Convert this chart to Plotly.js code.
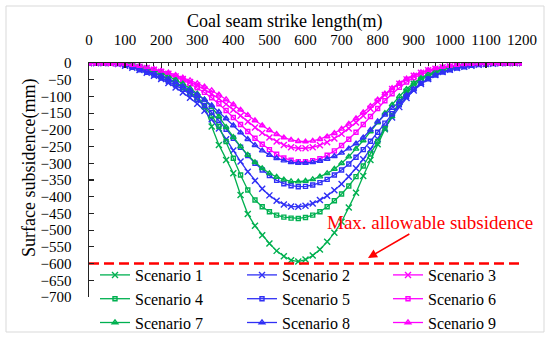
<!DOCTYPE html>
<html><head><meta charset="utf-8">
<script src="https://cdn.plot.ly/plotly-3.0.1.min.js"></script>
<style>html,body{margin:0;padding:0;background:#fff;}#chart{width:550px;height:338px;}</style>
</head><body><div id="chart"></div>
<script>
// strike length (m)
const strikeLength = [0,20,40,60,80,100,120,140,160,180,200,220,240,260,280,300,320,340,360,380,400,420,440,460,480,500,520,540,560,580,600,620,640,660,680,700,720,740,760,780,800,820,840,860,880,900,920,940,960,980,1000,1020,1040,1060,1080,1100,1120,1140,1160,1180,1200];
// surface subsidence (mm)
const scenario1 = [0,0,0,0,-1,-3,-8,-14,-21,-29, -38,-48,-60,-73,-87,-102,-128,-190,-245,-290, -330,-395,-452,-487,-515,-540,-562,-578,-590,-594, -588,-576,-558,-535,-508,-475,-432,-388,-338,-290, -243,-198,-155,-116,-86,-62,-46,-35,-26,-19, -14,-10,-7,-5,-3,-2,-1,0,0,0, 0];
const scenario2 = [0,0,0,0,-3,-8,-14,-21,-29,-38, -48,-60,-73,-88,-104,-122,-143,-168,-196,-228, -262,-295,-325,-352,-376,-396,-412,-423,-429,-430, -427,-420,-410,-397,-381,-362,-340,-315,-288,-258, -227,-195,-163,-132,-105,-82,-63,-48,-36,-27, -20,-15,-11,-8,-5,-3,-2,-1,0,0, 0];
const scenario3 = [0,0,0,-1,-2,-4,-7,-11,-15,-20, -26,-32,-40,-48,-57,-67,-79,-92,-107,-123, -140,-158,-176,-193,-209,-223,-235,-245,-252,-255, -255,-252,-246,-237,-226,-212,-196,-178,-158,-137, -116,-96,-78,-62,-49,-38,-29,-22,-17,-13, -10,-7,-5,-3,-2,-1,0,0,0,0, 0];
const scenario4 = [0,0,0,0,0,-2,-6,-12,-20,-28, -38,-48,-60,-74,-90,-108,-130,-158,-190,-235, -285,-335,-380,-410,-430,-445,-455,-461,-464,-465, -462,-455,-445,-430,-412,-392,-368,-340,-308,-272, -235,-195,-158,-122,-92,-68,-50,-38,-28,-20, -14,-10,-6,-4,-2,-1,0,0,0,0, 0];
const scenario5 = [0,0,0,0,-2,-7,-13,-20,-28,-36, -45,-55,-66,-79,-93,-109,-127,-148,-172,-198, -225,-252,-277,-300,-320,-337,-351,-361,-367,-370, -369,-365,-358,-348,-335,-320,-302,-282,-259,-234, -207,-180,-152,-125,-100,-79,-61,-47,-36,-27, -20,-15,-11,-7,-5,-3,-2,-1,0,0, 0];
const scenario6 = [0,0,0,-1,-2,-4,-7,-11,-16,-21, -27,-34,-42,-51,-62,-74,-88,-104,-122,-142, -163,-184,-205,-225,-243,-259,-273,-284,-291,-295, -295,-292,-286,-276,-263,-247,-228,-207,-184,-160, -136,-113,-92,-73,-57,-44,-34,-26,-20,-15, -11,-8,-5,-3,-2,-1,0,0,0,0, 0];
const scenario7 = [0,0,0,0,0,0,-4,-9,-15,-22, -30,-40,-50,-62,-76,-92,-110,-132,-160,-192, -222,-250,-275,-297,-315,-330,-341,-349,-354,-355, -353,-348,-340,-330,-317,-300,-280,-257,-232,-205, -178,-150,-125,-100,-78,-60,-45,-34,-25,-18, -12,-8,-5,-3,-1,0,0,0,0,0, 0];
const scenario8 = [0,0,0,0,-2,-6,-11,-17,-24,-31, -39,-48,-58,-69,-81,-95,-110,-127,-146,-166, -187,-208,-228,-246,-262,-275,-285,-292,-297,-299, -299,-297,-293,-287,-279,-269,-256,-241,-223,-200, -175,-155,-135,-115,-96,-78,-62,-48,-36,-27, -20,-14,-10,-6,-4,-2,-1,0,0,0, 0];
const scenario9 = [0,0,0,-1,-2,-3,-6,-9,-13,-18, -23,-29,-36,-44,-52,-61,-71,-82,-95,-109, -124,-140,-156,-172,-187,-201,-213,-223,-230,-234, -235,-233,-228,-220,-210,-197,-182,-166,-148,-129, -110,-92,-75,-60,-47,-37,-28,-21,-16,-12, -9,-6,-4,-3,-2,-1,0,0,0,0, 0];
const seriesNames = ['Scenario 1','Scenario 2','Scenario 3','Scenario 4','Scenario 5','Scenario 6','Scenario 7','Scenario 8','Scenario 9'];
const maxAllowable = -600;
const limitSpan = [0, 1200];
const limitLabel = 'Max. allowable subsidence';

const allSeries = [scenario1,scenario2,scenario3,scenario4,scenario5,scenario6,scenario7,scenario8,scenario9];
const GREEN = '#00B050', BLUE = '#3030F5', MAGENTA = '#FF00FF';
const colors = [GREEN, BLUE, MAGENTA, GREEN, BLUE, MAGENTA, GREEN, BLUE, MAGENTA];
const symbols = ['x-thin-open','x-thin-open','x-thin-open','square-open','square-open','square-open','triangle-up-open','triangle-up-open','triangle-up-open'];
const sizes = [6,6,6,4,4,4,5,5,5];
const legendIds = ['legend','legend2','legend3'];
const FONT = '"Liberation Serif", "Times New Roman", serif';

const traces = allSeries.map((ys, i) => ({
  x: strikeLength, y: ys, name: seriesNames[i], type: 'scatter', mode: 'lines+markers',
  legend: legendIds[i % 3],
  line: {color: colors[i], width: 1.3},
  marker: {symbol: symbols[i], size: sizes[i], color: colors[i], line: {color: colors[i], width: 1.4}}
}));
traces.push({
  x: limitSpan, y: [maxAllowable, maxAllowable], type: 'scatter', mode: 'lines',
  line: {color: '#FF0000', width: 2.6, dash: '10px,5px'}, showlegend: false, hoverinfo: 'skip'
});

const L = 89, R = 28, T = 63, B = 41;
const W = 550 - L - R, H = 338 - T - B;
const px = v => (v - L) / W;
const py = v => (338 - B - v) / H;
const dx = v => (v - L) / W * 1200;
const dy = v => -(v - T) / H * 700;

const legendBase = {
  xanchor: 'left', y: py(258), yanchor: 'top', orientation: 'v',
  font: {family: FONT, size: 16, color: '#000'}, bgcolor: 'rgba(0,0,0,0)',
  itemwidth: 30, traceorder: 'normal', tracegroupgap: 0
};

const layout = {
  width: 550, height: 338,
  margin: {l: L, r: R, t: T, b: B, autoexpand: false},
  paper_bgcolor: '#fff', plot_bgcolor: '#fff',
  font: {family: FONT, size: 15, color: '#000'},
  showlegend: true,
  xaxis: {
    side: 'top', range: [0, 1200], dtick: 100, tick0: 0,
    ticks: 'inside', ticklen: 5, tickwidth: 1.2, tickcolor: '#222',
    minor: {dtick: 20, ticks: 'inside', ticklen: 3, tickwidth: 1, tickcolor: '#222'},
    showline: true, linecolor: '#222', linewidth: 1.5, showgrid: false, zeroline: false,
    tickfont: {family: FONT, size: 15, color: '#000'}, ticklabelstandoff: 11
  },
  yaxis: {
    range: [-700, 0], dtick: 50, tick0: 0,
    ticks: 'inside', ticklen: 5, tickwidth: 1.2, tickcolor: '#222',
    showline: true, linecolor: '#222', linewidth: 1.5, showgrid: false, zeroline: false,
    tickfont: {family: FONT, size: 15, color: '#000'}, ticklabelstandoff: 13
  },
  legend: Object.assign({}, legendBase, {x: px(95)}),
  legend2: Object.assign({}, legendBase, {x: px(242)}),
  legend3: Object.assign({}, legendBase, {x: px(388)}),
  annotations: [
    {text: 'Coal seam strike length(m)', xref: 'paper', yref: 'paper', x: px(284), y: py(22),
     xanchor: 'center', yanchor: 'middle', showarrow: false, font: {family: FONT, size: 18, color: '#000'}},
    {text: 'Surface subsidence(mm)', xref: 'paper', yref: 'paper', x: px(29), y: py(168),
     xanchor: 'center', yanchor: 'middle', textangle: -90, showarrow: false, font: {family: FONT, size: 18, color: '#000'}},
    {text: limitLabel, xref: 'x', yref: 'y', x: dx(368), y: dy(258), ax: dx(430), ay: dy(222),
     axref: 'x', ayref: 'y', showarrow: true, arrowhead: 2, arrowsize: 1.2, arrowwidth: 1.5, arrowcolor: '#FF0000',
     standoff: 0, font: {family: FONT, size: 19, color: '#FF0000'}}
  ],
  shapes: [
    {type: 'rect', xref: 'paper', yref: 'paper', x0: px(6), x1: px(544), y0: py(332), y1: py(6),
     line: {color: '#D9D9D9', width: 1}, fillcolor: 'rgba(0,0,0,0)', layer: 'below'}
  ]
};
Plotly.newPlot('chart', traces, layout, {staticPlot: true, displayModeBar: false});
</script></body></html>
